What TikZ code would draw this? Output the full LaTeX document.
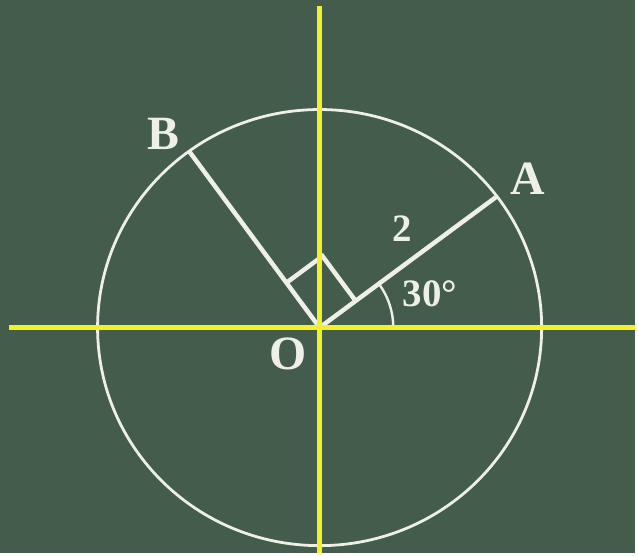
\documentclass[tikz,border=0pt]{standalone}
\usepackage{fontspec}
\setmainfont{Liberation Serif}
\usetikzlibrary{positioning}
\definecolor{board}{RGB}{67,92,75}
\definecolor{chalk}{RGB}{238,240,232}
\definecolor{axis}{RGB}{242,240,40}

\begin{document}
\begin{tikzpicture}[x=1pt,y=1pt,
  ax/.style={axis,line width=5.5pt},
  wl/.style={chalk,line width=4.5pt},
  lbl/.style={text=chalk,font=\bfseries\fontsize{48}{48}\selectfont,inner sep=0pt},
  sm/.style={text=chalk,font=\bfseries\fontsize{39}{39}\selectfont,inner sep=0pt}]
\fill[board] (-321,-226) rectangle (317,329);
\coordinate (O) at (0,0);
\coordinate (A) at (36.5:221);
\coordinate (B) at (126.5:220);
\coordinate (xl) at (-312,0);
\coordinate (xr) at (317,0);
\coordinate (yt) at (0,323);
\coordinate (yb) at (0,-226);
\draw[chalk,line width=2.8pt] (O) circle[x radius=223, y radius=219];
% right angle and 30 degree arc
\draw[wl] (36.5:45) -- ++(126.5:56) -- (126.5:56);
\draw[chalk,line width=2.4pt] (74,0) arc[start angle=0,end angle=36.5,radius=74];
\draw[wl] (O) -- (A);
\draw[wl] (O) -- (B);
\draw[ax] (xl) -- (xr);
\draw[ax] (yb) -- (yt);
\node[lbl] (la) at (209,150) {A};
\node[lbl] (lb) at (-157,194) {B};
\node[lbl] (lo) at (-32,-26) {O};
\node[sm] (lr) at (83,99) {2};
\node[sm] (lt) at (111,34) {30°};
\end{tikzpicture}
\end{document}
